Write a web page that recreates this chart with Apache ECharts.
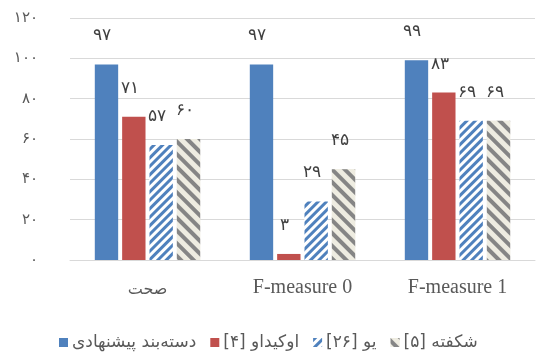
<!DOCTYPE html>
<html>
<head>
<meta charset="utf-8">
<script src="https://cdn.jsdelivr.net/npm/echarts@6/dist/echarts.min.js"></script>
<style>
  html, body { margin: 0; padding: 0; background: #fff; }
  #chart { width: 537px; height: 356px; }
</style>
</head>
<body>
<div id="chart"></div>
<script>
// Categories along the x axis
const categories = ['صحت', 'F-measure 0', 'F-measure 1'];

// Series names (RLM marks keep the bracketed references in right-to-left order)
const seriesNames = [
  'دسته‌بند پیشنهادی',
  '\u200Fاوکیداو [۴]\u200F',
  '\u200Fیو [۲۶]\u200F',
  '\u200Fشکفته [۵]\u200F'
];

// Values per series, one per category
const proposed = [97, 97, 99];
const okidao = [71, 3, 83];
const yu = [57, 29, 69];
const shekofte = [60, 45, 69];

// Value axis range
const yMin = 0;
const yMax = 120;
const yStep = 20;

const faDigits = '۰۱۲۳۴۵۶۷۸۹';
function toFa(n) {
  return String(n).replace(/[0-9]/g, d => faDigits[+d]);
}

const persianFont = "'DejaVu Sans', 'Noto Sans', sans-serif";
const serifFont = "'Liberation Serif', 'DejaVu Serif', serif";
const textColor = '#595959';

const labelStyle = {
  show: true,
  position: 'top',
  distance: 4,
  offset: [-4, -16],
  color: '#404040',
  fontSize: 17,
  fontWeight: 'lighter',
  fontFamily: persianFont,
  formatter: p => toFa(p.value)
};

const styles = [
  { color: '#4F81BD' },
  { color: '#C0504D' },
  {
    color: '#ffffff',
    decal: {
      symbol: 'rect', symbolSize: 1, color: '#4F81BD', backgroundColor: '#ffffff',
      dashArrayX: [1, 0], dashArrayY: [2.4, 2.2], rotation: -Math.PI / 4
    }
  },
  {
    color: '#EEECE1',
    decal: {
      symbol: 'rect', symbolSize: 1, color: '#858585', backgroundColor: '#EEECE1',
      dashArrayX: [1, 0], dashArrayY: [4, 5], rotation: Math.PI / 4
    }
  }
];

const values = [proposed, okidao, yu, shekofte];

const chart = echarts.init(document.getElementById('chart'), null, { renderer: 'canvas' });

chart.setOption({
  animation: false,
  backgroundColor: '#ffffff',
  grid: { left: 70, right: 2, top: 18, bottom: 96, containLabel: false },
  legend: {
    left: 54,
    bottom: 0,
    icon: 'rect',
    itemWidth: 9,
    itemHeight: 9,
    itemGap: 14,
    textStyle: { color: textColor, fontSize: 17, fontFamily: persianFont, padding: [0, 0, 0, -1] },
    data: seriesNames
  },
  xAxis: {
    type: 'category',
    data: categories,
    axisLine: { show: true, lineStyle: { color: '#D9D9D9', width: 1 } },
    axisTick: { show: false },
    axisLabel: {
      margin: 18,
      color: textColor,
      fontSize: 20,
      fontFamily: serifFont,
      formatter: v => /^[A-Za-z]/.test(v) ? v : '{fa|' + v + '}',
      rich: {
        fa: { fontSize: 16, fontFamily: persianFont, color: textColor, padding: [4, 0, 0, 0] }
      }
    }
  },
  yAxis: {
    type: 'value',
    min: yMin,
    max: yMax,
    interval: yStep,
    axisLine: { show: false },
    axisTick: { show: false },
    splitLine: { lineStyle: { color: '#D9D9D9', width: 1 } },
    axisLabel: {
      margin: 32,
      color: textColor,
      fontSize: 15,
      fontFamily: persianFont,
      formatter: v => toFa(v)
    }
  },
  series: values.map((data, i) => ({
    name: seriesNames[i],
    type: 'bar',
    data: data,
    barGap: '17%',
    barCategoryGap: '32%',
    itemStyle: styles[i],
    label: labelStyle
  }))
});
</script>
</body>
</html>
